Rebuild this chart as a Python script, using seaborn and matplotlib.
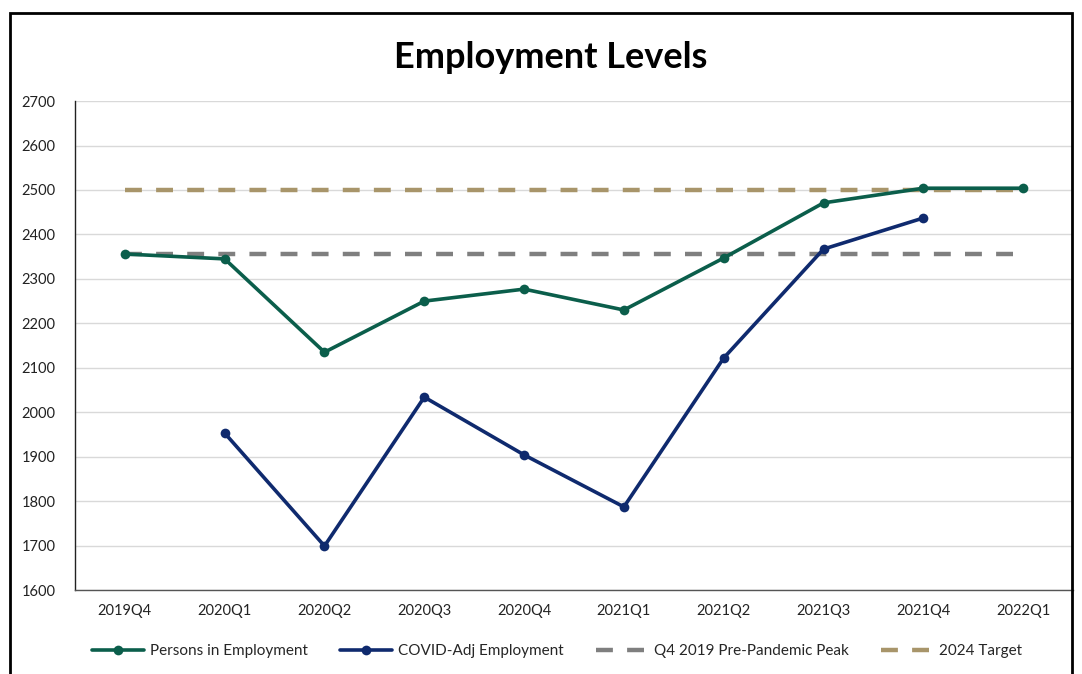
import numpy as np
import pandas as pd
import matplotlib
matplotlib.use("Agg")
import matplotlib.pyplot as plt
import seaborn as sns
from matplotlib.patches import Rectangle

categories = ["2019Q4", "2020Q1", "2020Q2", "2020Q3", "2020Q4",
              "2021Q1", "2021Q2", "2021Q3", "2021Q4", "2022Q1"]
persons = [2356, 2345, 2135, 2250, 2277, 2230, 2347, 2471, 2504, 2504]
covid_adj = [np.nan, 1953, 1699, 2034, 1904, 1787, 2122, 2367, 2437, np.nan]
peak = [2356] * 10
target = [2500] * 10

sns.set_theme(style="white")
plt.rcParams['font.family'] = ['Lato', 'DejaVu Sans']

fig = plt.figure(figsize=(10.82, 6.74), dpi=100)
ax = fig.add_axes([0.0693, 0.1246, 0.9224, 0.7254])

x = np.arange(len(categories))
df = pd.DataFrame({"x": x, "persons": persons, "covid": covid_adj,
                   "peak": peak, "target": target})

green = "#0b5e4b"
navy = "#0f2a6e"
grey = "#7f7f7f"
tan = "#a8956a"

sns.lineplot(data=df, x="x", y="peak", ax=ax, color=grey, linewidth=3.2,
             linestyle=(0, (3.8, 3.2)), label="Q4 2019 Pre-Pandemic Peak", zorder=2)
sns.lineplot(data=df, x="x", y="target", ax=ax, color=tan, linewidth=3.2,
             linestyle=(0, (3.8, 3.2)), label="2024 Target", zorder=2)
sns.lineplot(data=df, x="x", y="persons", ax=ax, color=green, linewidth=2.6,
             marker="o", markersize=7, markeredgewidth=0,
             label="Persons in Employment", zorder=3)
sns.lineplot(data=df.dropna(subset=["covid"]), x="x", y="covid", ax=ax, color=navy,
             linewidth=2.6, marker="o", markersize=7, markeredgewidth=0,
             label="COVID-Adj Employment", zorder=3)

ax.set_xlim(-0.5, len(categories) - 0.5)
ax.set_ylim(1600, 2700)
ax.set_yticks(np.arange(1600, 2701, 100))
ax.set_xticks(x)
ax.set_xticklabels(categories)
ax.tick_params(axis="both", labelsize=10.5, colors="#222222", length=0, pad=10)
ax.tick_params(axis="y", pad=14)
ax.set_xlabel("")
ax.set_ylabel("")
ax.grid(axis="y", color="#d9d9d9", linewidth=1)
ax.set_axisbelow(True)
for s in ["top", "right"]:
    ax.spines[s].set_visible(False)
ax.spines["left"].set_color("#222222")
ax.spines["left"].set_linewidth(1)
ax.spines["bottom"].set_color("#555555")
ax.spines["bottom"].set_linewidth(1)

ax.get_legend().remove()
h, l = ax.get_legend_handles_labels()
order = ["Persons in Employment", "COVID-Adj Employment",
         "Q4 2019 Pre-Pandemic Peak", "2024 Target"]
hd = dict(zip(l, h))
fig.legend([hd[o] for o in order], order, loc="center",
           bbox_to_anchor=(0.515, 0.034), ncol=4, frameon=False,
           fontsize=11, handlelength=3.4, columnspacing=2.1, handletextpad=0.4)

fig.text(0.509, 0.914, "Employment Levels", ha="center", va="center",
         fontsize=26, fontweight="bold", color="black")

fig.patches.append(Rectangle((10 / 1082, -0.05), (1072 - 10) / 1082, 1.05 - 13 / 674,
                             transform=fig.transFigure, fill=False,
                             edgecolor="black", linewidth=2))

fig.savefig("out.png", dpi=100)
